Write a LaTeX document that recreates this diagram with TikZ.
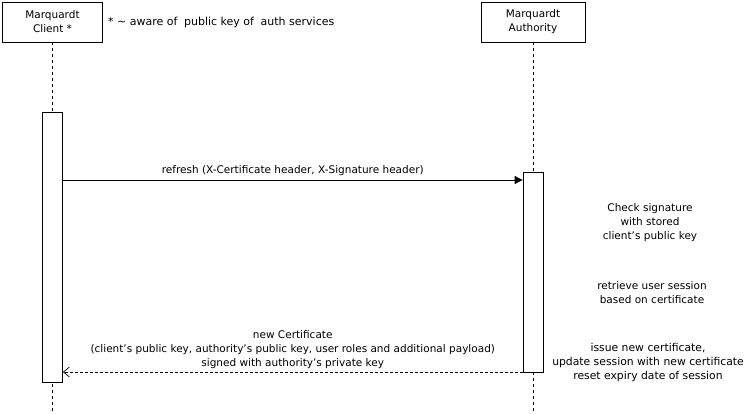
\documentclass[tikz,border=0pt]{standalone}
\usepackage{fontspec}
\setmainfont{DejaVu Sans}
\usetikzlibrary{arrows.meta}
\begin{document}
\begin{tikzpicture}[x=1pt,y=-1pt,
  every node/.style={font=\fontsize{10.5}{14}\selectfont, inner sep=0pt},
  actor/.style={draw, line width=0.9pt, minimum width=100pt, minimum height=40pt, align=center},
  act/.style={draw, fill=white, line width=0.8pt},
  lifeline/.style={line width=0.7pt, dash pattern=on 3pt off 3pt},
  msg/.style={line width=0.8pt, -{Triangle[length=8pt,width=8pt]}},
  ret/.style={line width=0.7pt, dash pattern=on 3pt off 2pt, -{Straight Barb[length=6pt,width=10pt,line width=0.7pt]}},
  note/.style={align=center}]
\useasboundingbox (0,0) rectangle (749,414);
\fill[white] (0,0) rectangle (749,414);
% actors
\node[actor] (client) at (52.5,22) {Marquardt\\Client *};
\node[actor, minimum width=104pt] (auth) at (533,22) {Marquardt\\Authority};
\coordinate (cend) at (52.5,414);
\coordinate (aend) at (533,414);
\draw[lifeline] (client.south) -- (cend);
\draw[lifeline] (auth.south) -- (aend);
% activations
\node[act, minimum width=20pt, minimum height=270pt] (cact) at (52.5,247) {};
\node[act, minimum width=20pt, minimum height=200pt] (aact) at (533,272) {};
% messages
\coordinate (m1s) at (cact.east |- 0,180);
\coordinate (m1e) at (aact.west |- 0,180);
\draw[msg] (m1s) -- node[above=4pt] {refresh (X-Certificate header, X-Signature header)} (m1e);
\coordinate (m2s) at (aact.west |- 0,372);
\coordinate (m2e) at (cact.east |- 0,372);
\draw[ret] (m2s) -- node[above=3pt, align=center] {new Certificate\\(client's public key, authority's public key, user roles and additional payload)\\signed with authority's private key} (m2e);
% notes
\node[anchor=west, font=\fontsize{11}{14}\selectfont] (star) at (108,22) {* \textasciitilde{} aware of\hspace{0.6em}public key of\hspace{0.6em}auth services};
\node[note] (n1) at (650,222.5) {Check signature\\with stored\\client's public key};
\node[note] (n2) at (652,292.5) {retrieve user session\\based on certificate};
\node[note, font=\fontsize{10.8}{14}\selectfont] (n3) at (648,362.5) {issue new certificate,\\update session with new certificate\\reset expiry date of session};
\end{tikzpicture}
\end{document}
